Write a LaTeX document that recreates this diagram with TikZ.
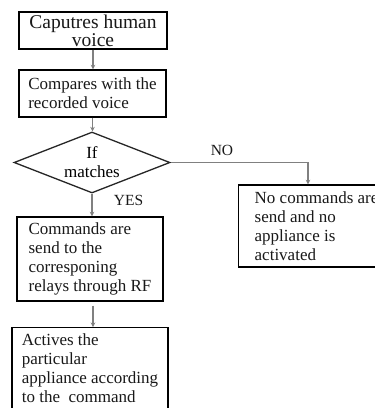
\documentclass[tikz,border=0pt]{standalone}
\usepackage{fontspec}
\setmainfont{Liberation Serif}
\usetikzlibrary{shapes.geometric,arrows.meta,calc}
\begin{document}
\begin{tikzpicture}[x=1pt,y=-1pt,
  box/.style={draw=black,line width=1.4pt,align=left,font=\fontsize{17}{19}\selectfont,text=black!90},
  dia/.style={draw=black!85,line width=1.3pt,diamond,aspect=2.55,inner sep=0pt,align=center,font=\fontsize{17}{19}\selectfont},
  arr/.style={draw=black!50,line width=1.3pt,-{Stealth[length=4.5pt,width=4.5pt]}},
  lbl/.style={anchor=base,font=\fontsize{15.5}{17}\selectfont,text=black!90}]
\useasboundingbox (0,0) rectangle (375,408);
\fill[white] (0,0) rectangle (375,408);
\clip (0,0) rectangle (375,408);
\node[box,align=center,minimum width=148pt,minimum height=37pt,inner sep=0pt,font=\fontsize{19.5}{15.5}\selectfont] (b1) at (93,30.5) {Caputres human\\voice};
\node[box,minimum width=147pt,minimum height=47pt,inner xsep=8pt] (b2) at (92.5,93.5) {Compares with the\\recorded voice};
\node[dia,minimum width=156pt,minimum height=61pt] (d) at (92,162.5) {If\\matches};
\node[box,minimum width=146pt,minimum height=84pt,inner xsep=10pt] (b3) at (90,259) {Commands are\\send to the\\corresponing\\relays through RF};
\node[box,anchor=north,minimum width=146pt,inner xsep=10pt,inner ysep=6.4pt] (b4) at (90,327) {Actives the\\particular\\appliance according\\to the\ \ command\\ };
\node[box,anchor=west,minimum height=82pt,inner xsep=16pt] (rb) at (238,226) {No commands are\\send and no\\appliance is\\activated};
\node[lbl] (no) at (222,155) {NO};
\node[lbl] (yes) at (128.5,205) {YES};
\draw[arr] (b1.south) -- (b1.south |- b2.north);
\draw[arr] (b2.south) -- (b2.south |- d.north);
\draw[arr] (d.south) -- (d.south |- b3.north);
\draw[arr,shorten <=4pt] ([xshift=3pt]b3.south) -- ([xshift=3pt]b4.north);
\draw[arr] (d.east) -| ([xshift=70pt]rb.north west);
\end{tikzpicture}
\end{document}
